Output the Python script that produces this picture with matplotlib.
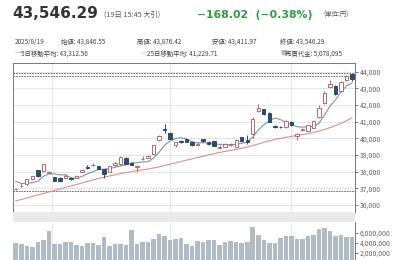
import numpy as np
import matplotlib
matplotlib.use('Agg')
import matplotlib.pyplot as plt
from matplotlib.patches import Rectangle
from matplotlib.ticker import FuncFormatter

plt.rcParams['font.family'] = ['Noto Sans CJK JP', 'DejaVu Sans']

# Dane dzienne (sesje od 5/22 do 8/19)
dates = ['5/22', '5/23', '5/26', '5/27', '5/28', '5/29', '5/30',
         '6/2', '6/3', '6/4', '6/5', '6/6', '6/9', '6/10', '6/11', '6/12', '6/13',
         '6/16', '6/17', '6/18', '6/19', '6/20', '6/23', '6/24', '6/25', '6/26', '6/27', '6/30',
         '7/1', '7/2', '7/3', '7/4', '7/7', '7/8', '7/9', '7/10', '7/11', '7/14', '7/15',
         '7/16', '7/17', '7/18', '7/22', '7/23', '7/24', '7/25', '7/28', '7/29', '7/30', '7/31',
         '8/1', '8/4', '8/5', '8/6', '8/7', '8/8', '8/12', '8/13', '8/14', '8/15', '8/18', '8/19']

opens = [36950, 37120, 37250, 37550, 38080, 38020, 37940,
         37660, 37640, 37650, 37600, 37650, 38000, 38300, 38400, 38330, 38140,
         37990, 38400, 38440, 38840, 38550, 38300, 38760, 38850, 39060, 39900, 40560,
         40340, 39600, 39810, 39940, 39800, 39600, 39940, 39760, 39840, 39430, 39500,
         39620, 39500, 40060, 39900, 40250, 41640, 41740, 41540, 40740, 40700, 40700,
         41000, 40150, 40500, 40460, 40640, 41300, 42100, 43100, 43160, 42840, 43500, 43846]
highs = [37050, 37300, 37560, 37760, 38120, 38480, 38050,
         37700, 37680, 37850, 37700, 37780, 38130, 38420, 38500, 38360, 38160,
         38340, 38580, 38920, 38870, 38600, 38380, 38950, 38980, 39600, 40200, 40852,
         40400, 39800, 39880, 39980, 39840, 39780, 39980, 39830, 39870, 39600, 39700,
         39740, 39950, 40100, 40200, 41300, 42060, 41780, 41560, 40790, 40760, 41100,
         41060, 40350, 40600, 40820, 41100, 42000, 42850, 43500, 43200, 43450, 43800, 43876]
lows = [36880, 37080, 37200, 37500, 37700, 37980, 37870,
        37420, 37400, 37620, 37530, 37620, 37960, 38180, 38320, 38150, 37620,
        37960, 38370, 38420, 38460, 38380, 37990, 38720, 38800, 39040, 39850, 40350,
        39950, 39460, 39740, 39760, 39560, 39560, 39780, 39620, 39550, 39420, 39460,
        39560, 39470, 39780, 39680, 40000, 41600, 41400, 40980, 40650, 40600, 40650,
        40740, 39880, 40450, 40420, 40600, 41250, 42050, 43050, 42600, 42800, 43450, 43412]
closes = [36985, 37160, 37531, 37724, 37722, 38432, 37965,
          37470, 37446, 37747, 37554, 37741, 38088, 38211, 38421, 38173, 37834,
          38311, 38536, 38885, 38488, 38403, 38354, 38790, 38942, 39584, 40150, 40487,
          39986, 39762, 39785, 39810, 39587, 39688, 39821, 39646, 39569, 39459, 39678,
          39663, 39901, 39819, 39774, 41171, 41826, 41456, 40998, 40674, 40654, 41069,
          40800, 40290, 40549, 40794, 41059, 41820, 42718, 43274, 42649, 43378, 43714, 43546]

ma5 = [37413, 37295, 37301, 37340, 37424, 37714, 37875,
       37863, 37807, 37812, 37636, 37592, 37715, 37868, 38003, 38127, 38145,
       38190, 38255, 38348, 38411, 38525, 38533, 38584, 38595, 38815, 39164, 39591,
       39830, 39994, 40034, 39966, 39786, 39726, 39738, 39710, 39662, 39637, 39635,
       39603, 39654, 39704, 39767, 40066, 40498, 40809, 41045, 41225, 41122, 40970,
       40839, 40697, 40672, 40700, 40698, 40902, 41388, 41933, 42304, 42768, 43147, 43312]
ma25 = [36240, 36330, 36420, 36510, 36600, 36690, 36780,
        36870, 36960, 37050, 37140, 37230, 37320, 37410, 37500, 37590, 37670,
        37740, 37810, 37880, 37940, 38000, 38060, 38110, 38160, 38220, 38290, 38370,
        38450, 38530, 38610, 38690, 38770, 38850, 38930, 39010, 39080, 39150, 39220,
        39280, 39340, 39400, 39480, 39570, 39660, 39760, 39850, 39930, 40000, 40060,
        40120, 40170, 40220, 40280, 40350, 40430, 40530, 40640, 40770, 40900, 41060, 41230]

volume = [3.93, 3.73, 3.27, 3.13, 4.07, 4.6, 6.4,
          3.8, 3.8, 4.07, 4.13, 3.47, 3.4, 3.93, 3.93, 3.6, 5.07,
          3.4, 3.8, 3.8, 3.53, 6.6, 3.8, 4.13, 4.13, 4.8, 5.8, 5.4,
          4.6, 4.8, 5.0, 3.8, 3.27, 4.4, 4.07, 4.6, 4.6, 3.6, 4.07,
          4.27, 4.07, 3.93, 4.13, 7.07, 5.6, 4.6, 3.93, 3.93, 4.93, 5.27,
          5.4, 4.8, 4.8, 5.4, 5.6, 6.73, 6.93, 6.27, 5.4, 5.47, 5.07, 5.08]  # mln

month_labels = ['6/1', '7/1', '8/1']
month_pos = [6.6, 28, 50]
ref_lines = [43950, 43740, 36850]

RED = '#b46a6a'
NAVY = '#2f4b6e'
C_MA5 = '#7f93ab'
C_MA25 = '#d99090'
GRID = '#e2e2e2'

x = np.arange(len(dates))
o = np.array(opens); h = np.array(highs); l = np.array(lows); c = np.array(closes)
up = c >= o

fig = plt.figure(figsize=(4, 2.6), dpi=100)

def fx(px):
    return px / 400

def fy(py):
    return 1 - py / 260

L, R = 13, 355
ax = fig.add_axes([fx(L), fy(212), fx(R) - fx(L), fy(63) - fy(212)])
axv = fig.add_axes([fx(L), 0, fx(R) - fx(L), fy(222)])

# Swiece
ax.vlines(x[up], l[up], h[up], color=RED, lw=0.7, zorder=2)
ax.vlines(x[~up], l[~up], h[~up], color=NAVY, lw=0.7, zorder=2)
body_lo = np.minimum(o, c)
body_h = np.maximum(np.abs(c - o), 12)
ax.bar(x[up], body_h[up], bottom=body_lo[up], width=0.62, facecolor='white',
       edgecolor=RED, linewidth=0.7, zorder=3)
ax.bar(x[~up], body_h[~up], bottom=body_lo[~up], width=0.62, facecolor=NAVY,
       edgecolor=NAVY, linewidth=0.7, zorder=3)

ax.plot(x, ma5, color=C_MA5, lw=0.8, zorder=1.5)
ax.plot(x, ma25, color=C_MA25, lw=0.8, zorder=1.5)

for v in ref_lines:
    ax.axhline(v, color='#555555', lw=0.6, ls=(0, (2, 1.2)), zorder=1)

ax.set_xlim(-0.5, 61.55)
ax.set_ylim(35580, 44520)
ax.set_yticks(range(36000, 44001, 1000))
ax.yaxis.set_major_formatter(FuncFormatter(lambda v, p: f'{int(v):,}'))
ax.yaxis.tick_right()
ax.set_xticks(month_pos)
ax.set_xticklabels([])
ax.tick_params(axis='x', length=0)
ax.tick_params(axis='y', labelsize=5, colors='#666666', length=2, pad=1.5, width=0.6)
ax.grid(True, color=GRID, lw=0.6, zorder=0)
ax.set_axisbelow(True)
for s in ['left', 'top', 'right']:
    ax.spines[s].set_color('#777777')
    ax.spines[s].set_linewidth(0.7)
ax.spines['bottom'].set_visible(False)

# Pasek z datami
fig.add_artist(Rectangle((fx(L), fy(222)), fx(R) - fx(L), fy(212) - fy(222),
                         transform=fig.transFigure, facecolor='#e9e9e9', edgecolor='none'))
for lab, p in zip(month_labels, month_pos):
    ax.text(p, -0.034, lab, transform=ax.get_xaxis_transform(), ha='center', va='center',
            fontsize=5, color='#555555', clip_on=False)

# Wolumen
axv.bar(x, np.array(volume) * 1e6, width=0.82, color='#afbcc6', zorder=2)
axv.set_xlim(-0.5, 61.55)
axv.set_ylim(540000, 8140000)
axv.set_yticks([2000000, 4000000, 6000000])
axv.yaxis.set_major_formatter(FuncFormatter(lambda v, p: f'{int(v):,}'))
axv.yaxis.tick_right()
axv.set_xticks(month_pos)
axv.set_xticklabels([])
axv.tick_params(axis='x', length=0)
axv.tick_params(axis='y', labelsize=5, colors='#666666', length=2, pad=1.5, width=0.6)
axv.grid(True, axis='x', color=GRID, lw=0.6, zorder=0)
axv.set_axisbelow(True)
for s in ['left', 'top', 'bottom']:
    axv.spines[s].set_visible(False)
axv.spines['right'].set_color('#777777')
axv.spines['right'].set_linewidth(0.7)

# Naglowek
fig.text(fx(12), fy(17.5), '43,546.29', fontsize=11, fontweight='bold', color='#333333',
         family='DejaVu Sans', va='baseline')
fig.text(fx(104), fy(16.5), '(19日 15:45 大引)', fontsize=5.2, color='#555555', va='baseline')
fig.text(fx(197), fy(17.5), '−168.02  (−0.38%)', fontsize=7.8, fontweight='bold',
         color='#2e9b45', family='DejaVu Sans', va='baseline')
fig.text(fx(323), fy(16.5), '(単位:円)', fontsize=4.6, color='#555555', va='baseline')

row1 = [(15, '2025/8/19'), (61, '始値: 43,846.55'), (137, '高値: 43,876.42'),
        (212, '安値: 43,411.97'), (280, '終値: 43,546.29')]
for px, t in row1:
    fig.text(fx(px), fy(41.7), t, fontsize=4.6, color='#444444', va='center')

fig.text(fx(15), fy(53.3), '—', fontsize=5.5, color=C_MA5, va='center')
fig.text(fx(21), fy(53.3), '5日移動平均: 43,312.56', fontsize=4.6, color='#444444', va='center')
fig.text(fx(141), fy(53.3), '—', fontsize=5.5, color=C_MA25, va='center')
fig.text(fx(147), fy(53.3), '25日移動平均: 41,229.71', fontsize=4.6, color='#444444', va='center')
fig.text(fx(280), fy(53.3), '■', fontsize=4.6, color='#afbcc6', va='center')
fig.text(fx(285), fy(53.3), '売買代金: 5,078,095', fontsize=4.6, color='#444444', va='center')

fig.savefig('out.png', dpi=100)
